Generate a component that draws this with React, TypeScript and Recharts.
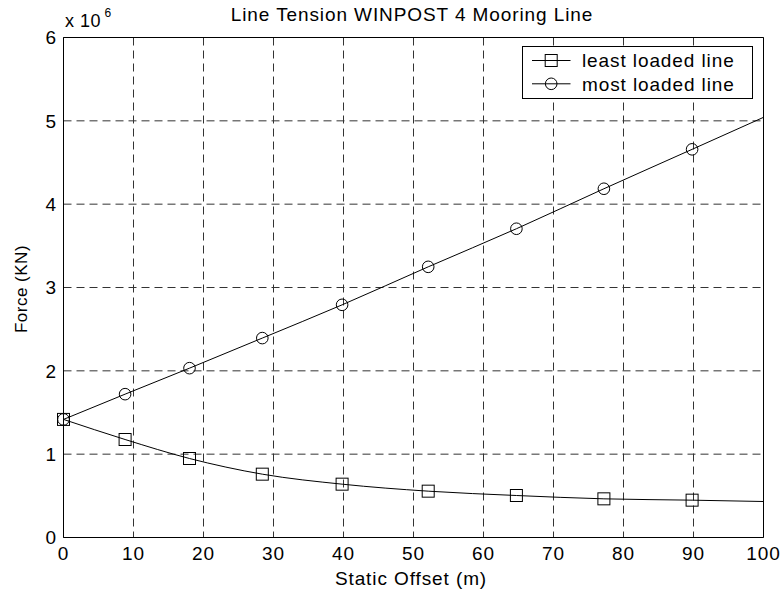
import React from 'react';
import { LineChart, Line, XAxis, YAxis, CartesianGrid, Legend, ReferenceArea } from 'recharts';

// Static offset (m) at which the curves were sampled
const offsets = [0, 8.8, 18, 28.4, 39.8, 52.1, 64.7, 77.2, 89.8, 100];
// Line tension (x 10^6 KN)
const leastLoaded = [1.417, 1.176, 0.948, 0.76, 0.64, 0.556, 0.504, 0.464, 0.448, 0.432];
const mostLoaded = [1.417, 1.72, 2.032, 2.393, 2.792, 3.248, 3.705, 4.185, 4.658, 5.042];
const markerShown = [true, true, true, true, true, true, true, true, true, false];

const xTicks = [0, 10, 20, 30, 40, 50, 60, 70, 80, 90, 100];
const yTicks = [0, 1, 2, 3, 4, 5, 6];
const seriesNames = ['least loaded line', 'most loaded line'];
const titleText = 'Line Tension WINPOST 4 Mooring Line';
const xLabel = 'Static Offset (m)';
const yLabel = 'Force (KN)';

const data = offsets.map((x, i) => ({ x, least: leastLoaded[i], most: mostLoaded[i] }));

const FONT = '"Liberation Sans", Arial, Helvetica, sans-serif';
const FS = 19;
const LS = 0.9;

const SquareDot = (props: any) => {
  const { cx, cy, index } = props;
  if (!markerShown[index] || cx == null || cy == null) return <g key={`sq-${index}`} />;
  return <rect key={`sq-${index}`} x={cx - 6} y={cy - 6} width={12} height={12} fill="none" stroke="#000" strokeWidth={1} />;
};

const CircleDot = (props: any) => {
  const { cx, cy, index } = props;
  if (!markerShown[index] || cx == null || cy == null) return <g key={`ci-${index}`} />;
  return <circle key={`ci-${index}`} cx={cx} cy={cy} r={5.8} fill="none" stroke="#000" strokeWidth={1} />;
};

const LegendBox = () => (
  <svg width={231} height={53} style={{ display: 'block' }}>
    <rect x={0.5} y={0.5} width={230} height={52} fill="#fff" stroke="#000" strokeWidth={1} />
    <line x1={10} x2={48.5} y1={14.5} y2={14.5} stroke="#000" />
    <rect x={23.2} y={8.5} width={12} height={12} fill="none" stroke="#000" />
    <text x={60} y={14.5} dy="0.36em" fontFamily={FONT} fontSize={FS} letterSpacing={LS} fill="#000">{seriesNames[0]}</text>
    <line x1={10} x2={48.5} y1={37.8} y2={37.8} stroke="#000" />
    <circle cx={29.2} cy={37.8} r={5.8} fill="none" stroke="#000" />
    <text x={60} y={37.8} dy="0.36em" fontFamily={FONT} fontSize={FS} letterSpacing={LS} fill="#000">{seriesNames[1]}</text>
  </svg>
);

const tickStyle = { fontFamily: FONT, fontSize: FS, fill: '#000', letterSpacing: LS };

export default function App() {
  return (
    <div style={{ position: 'absolute', left: 0, top: 0, width: 782, height: 592, background: '#fff' }}>
      <LineChart
        width={782}
        height={592}
        data={data}
        margin={{ top: 37.5, right: 18.5, bottom: 14.5, left: 23.5 }}
        style={{ background: '#fff' }}
      >
        <CartesianGrid stroke="#333" strokeDasharray="8 5" strokeWidth={1} />
        <XAxis
          dataKey="x"
          type="number"
          domain={[0, 100]}
          ticks={xTicks}
          height={40}
          tickLine={false}
          axisLine={false}
          tickSize={0}
          tickMargin={9.5}
          tick={tickStyle}
          interval={0}
        />
        <YAxis
          type="number"
          domain={[0, 6]}
          ticks={yTicks}
          width={40}
          tickLine={false}
          axisLine={false}
          tickSize={0}
          tickMargin={6.5}
          tick={tickStyle}
          interval={0}
        />
        <ReferenceArea x1={0} x2={100} y1={0} y2={6} fill="none" stroke="#000" strokeWidth={1} fillOpacity={0} />
        <Line
          type="monotone"
          dataKey="least"
          name={seriesNames[0]}
          stroke="#000"
          strokeWidth={1}
          dot={SquareDot}
          activeDot={false}
          isAnimationActive={false}
        />
        <Line
          type="monotone"
          dataKey="most"
          name={seriesNames[1]}
          stroke="#000"
          strokeWidth={1}
          dot={CircleDot}
          activeDot={false}
          isAnimationActive={false}
        />
        <Legend
          layout="vertical"
          align="center"
          verticalAlign="middle"
          wrapperStyle={{ left: 521.5, top: 45.5, width: 231, height: 53 }}
          content={() => <LegendBox />}
        />
      </LineChart>
      <svg width={782} height={592} style={{ position: 'absolute', left: 0, top: 0, pointerEvents: 'none' }}>
        <text x={412} y={20.5} textAnchor="middle" fontFamily={FONT} fontSize={FS} letterSpacing={LS} fill="#000">{titleText}</text>
        <text x={411} y={585} textAnchor="middle" fontFamily={FONT} fontSize={FS} letterSpacing={LS} fill="#000">{xLabel}</text>
        <text x={27} y={289} textAnchor="middle" fontFamily={FONT} fontSize={17} letterSpacing={0.5} fill="#000" transform="rotate(-90, 27, 289)">{yLabel}</text>
        <text x={65} y={26.5} fontFamily={FONT} fontSize={18} letterSpacing={0.5} fill="#000">x 10</text>
        <text x={104.5} y={16.5} fontFamily={FONT} fontSize={12} fill="#000">6</text>
      </svg>
    </div>
  );
}
